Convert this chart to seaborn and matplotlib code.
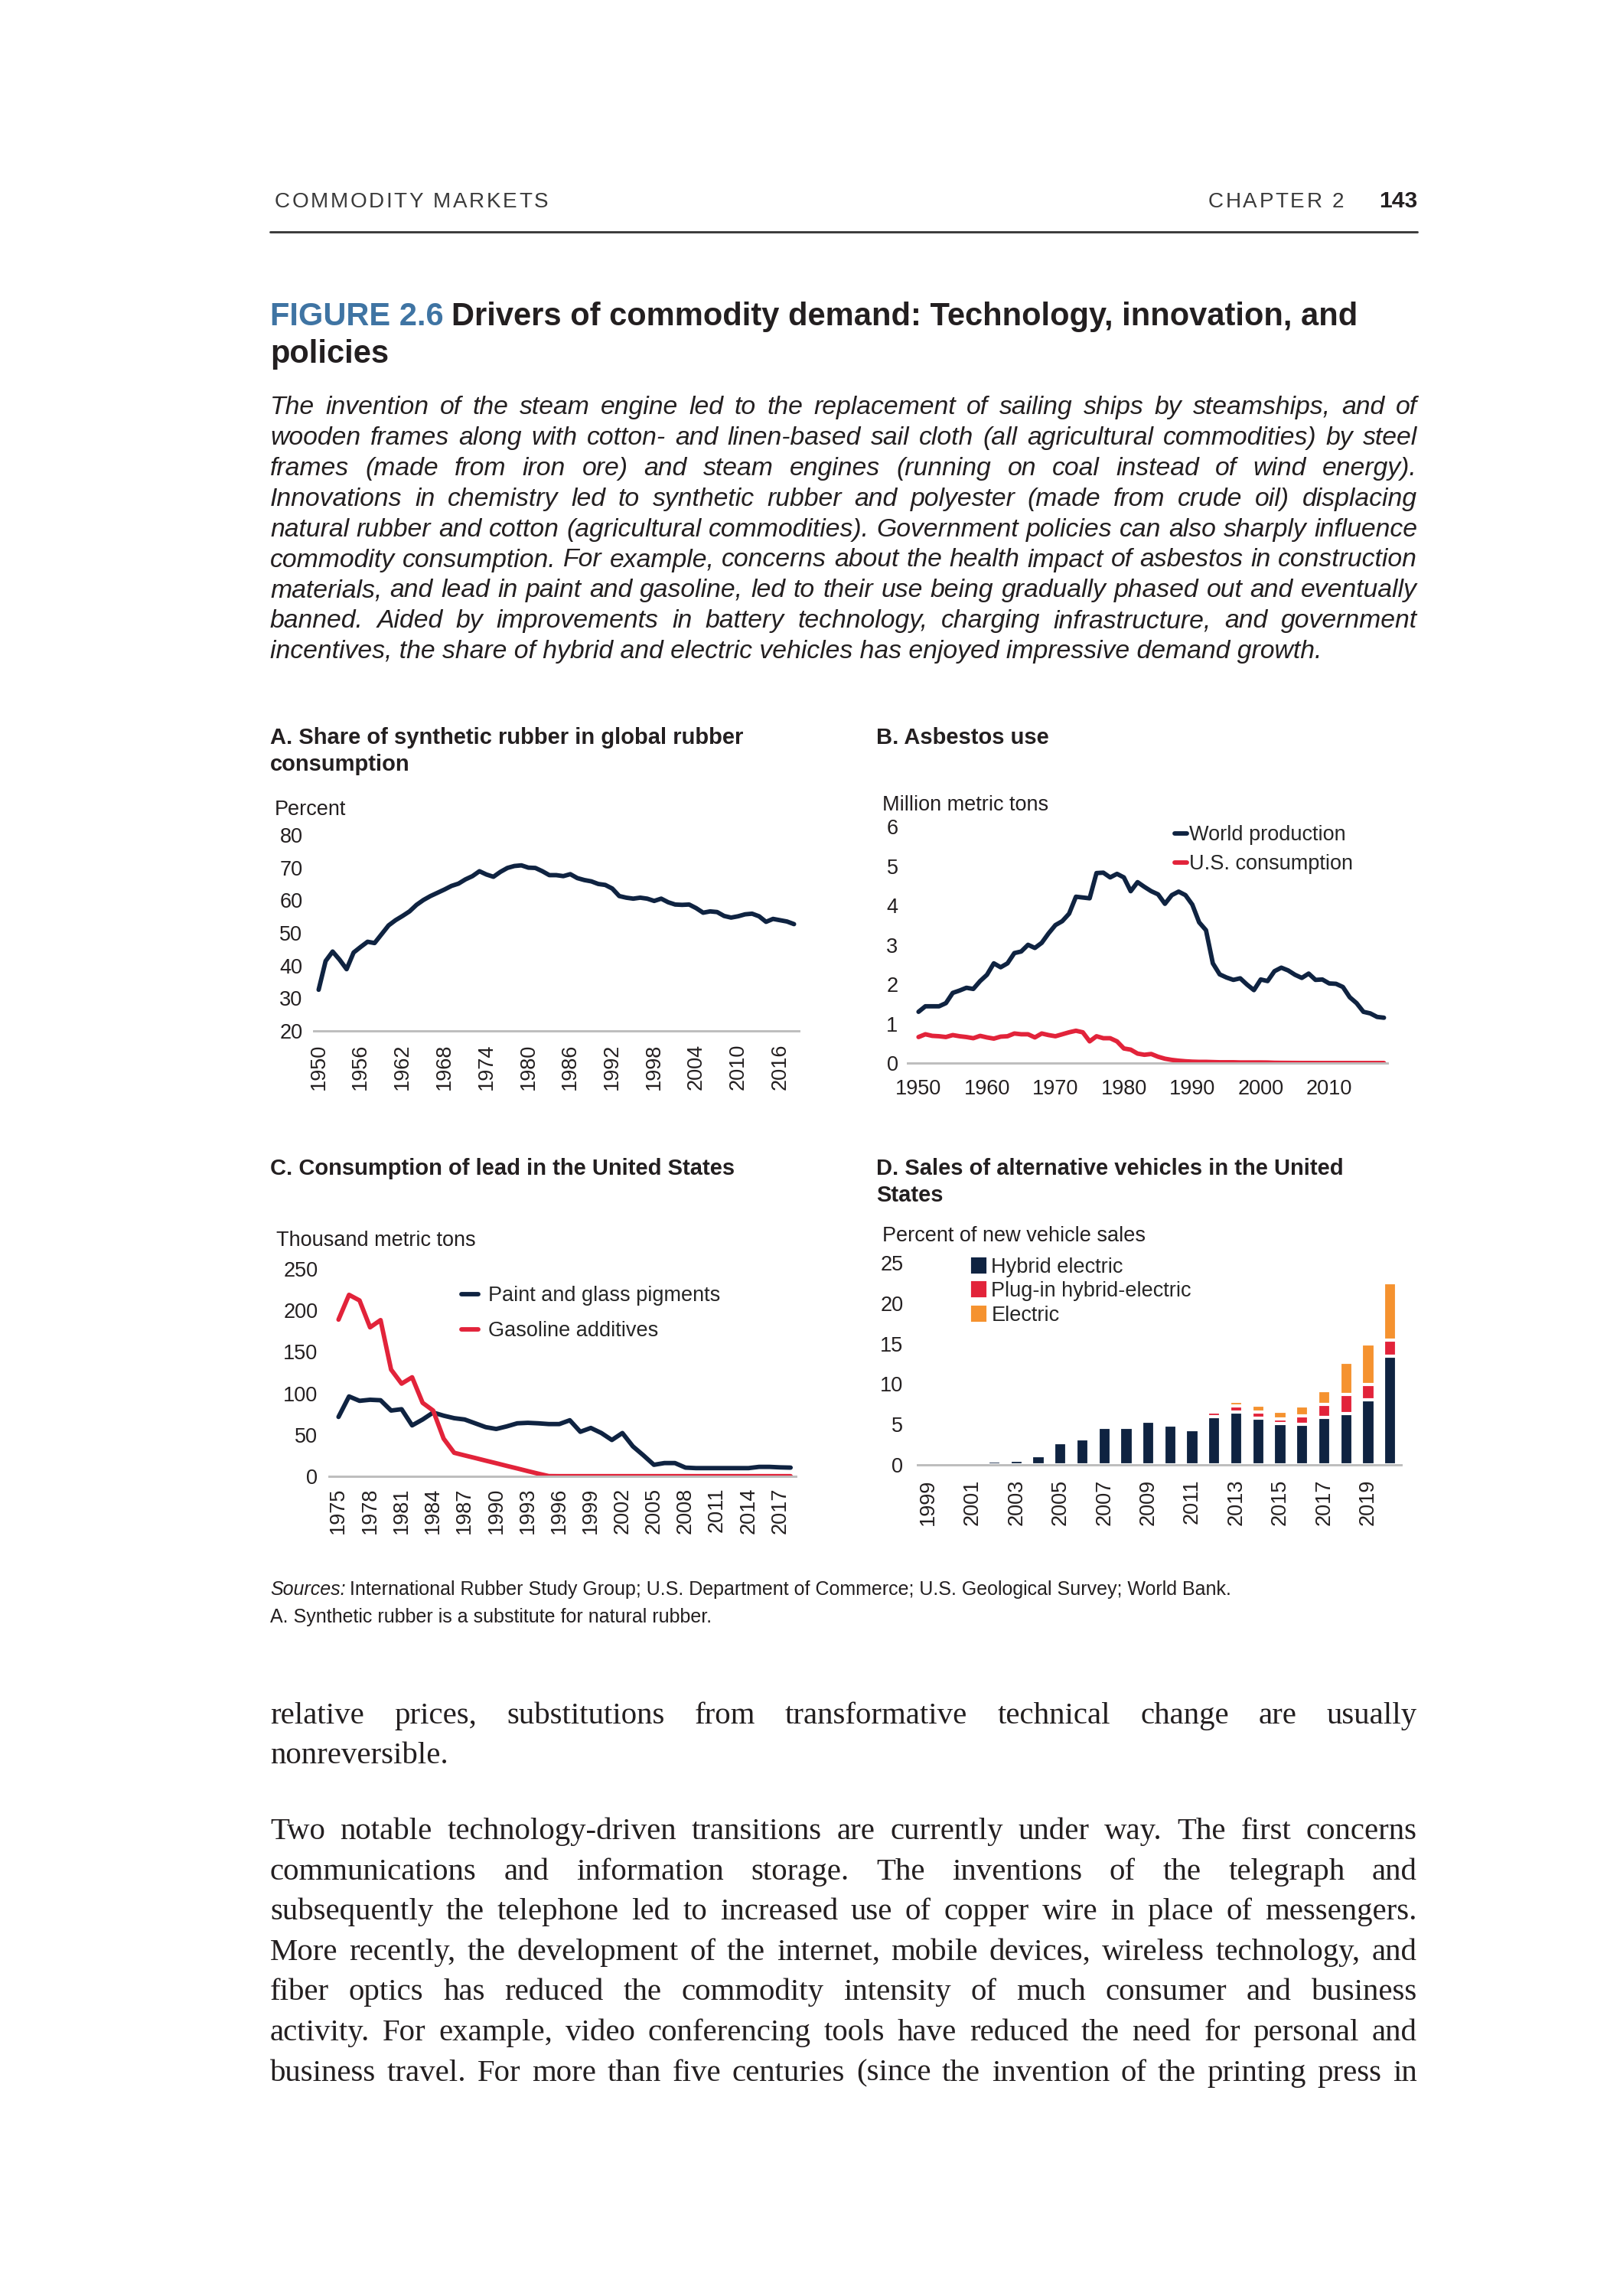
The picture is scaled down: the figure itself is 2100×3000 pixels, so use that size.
import pandas as pd
import matplotlib.pyplot as plt
import seaborn as sns
from matplotlib.patches import Patch

# ---------------- DATOS ---------------- #
# A. Participación del caucho sintético (porcentaje), 1950-2018
rubber_years = list(range(1950, 2019))
rubber_share = [32.6, 41.4, 44.3, 41.8, 38.9, 44.0, 45.7, 47.3, 46.9, 49.6,
                52.3, 53.9, 55.2, 56.6, 58.6, 60.1, 61.3, 62.3, 63.3, 64.4,
                65.1, 66.4, 67.4, 68.9, 67.9, 67.2, 68.7, 69.9, 70.5, 70.7,
                70.0, 69.9, 68.9, 67.7, 67.7, 67.4, 68.0, 66.8, 66.2, 65.8,
                65.0, 64.7, 63.6, 61.3, 60.8, 60.5, 60.8, 60.5, 59.8, 60.5,
                59.4, 58.7, 58.6, 58.7, 57.6, 56.2, 56.6, 56.4, 55.2, 54.7,
                55.1, 55.7, 55.9, 55.1, 53.4, 54.3, 53.9, 53.5, 52.7]

# B. Asbesto (millones de toneladas), 1950-2018
asb_years = list(range(1950, 2019))
asb_world = [1.30, 1.44, 1.44, 1.44, 1.52, 1.78, 1.84, 1.91, 1.88, 2.08,
             2.24, 2.53, 2.43, 2.53, 2.79, 2.83, 3.00, 2.92, 3.05, 3.29,
             3.50, 3.60, 3.79, 4.22, 4.20, 4.18, 4.82, 4.83, 4.71, 4.80,
             4.71, 4.36, 4.59, 4.47, 4.36, 4.28, 4.04, 4.26, 4.35, 4.26,
             4.02, 3.57, 3.37, 2.53, 2.25, 2.17, 2.11, 2.15, 1.99, 1.85,
             2.12, 2.08, 2.33, 2.42, 2.35, 2.24, 2.16, 2.27, 2.11, 2.12,
             2.02, 2.01, 1.93, 1.67, 1.52, 1.30, 1.26, 1.17, 1.15]
asb_us = [0.66, 0.73, 0.69, 0.68, 0.66, 0.71, 0.68, 0.66, 0.63, 0.69,
          0.65, 0.62, 0.67, 0.68, 0.75, 0.73, 0.73, 0.65, 0.75, 0.71,
          0.68, 0.73, 0.78, 0.82, 0.78, 0.55, 0.68, 0.63, 0.63, 0.55,
          0.37, 0.34, 0.24, 0.21, 0.23, 0.16, 0.11, 0.08, 0.06, 0.045,
          0.035, 0.03, 0.03, 0.025, 0.02, 0.02, 0.02, 0.015, 0.015, 0.015,
          0.015, 0.013, 0.007, 0.005, 0.004, 0.003, 0.002, 0.002, 0.0015, 0.001,
          0.001, 0.001, 0.001, 0.001, 0.0005, 0.0005, 0.0005, 0.0005, 0.0008]

# C. Consumo de plomo en EE.UU. (miles de toneladas), 1975-2018
lead_years = list(range(1975, 2019))
lead_paint = [71.6, 96.3, 91.0, 92.3, 91.7, 79.3, 80.9, 61.4, 68.5, 76.9,
              73.1, 70.1, 68.5, 63.9, 59.3, 57.1, 60.2, 63.9, 64.5, 63.9,
              63.0, 63.0, 67.6, 53.7, 58.3, 52.2, 43.8, 52.2, 36.1, 25.3,
              13.9, 16.0, 16.0, 10.5, 9.9, 9.9, 9.9, 9.9, 9.9, 9.9,
              11.4, 11.4, 10.8, 10.5]
lead_gas = [188.9, 218.8, 212.0, 179.6, 188.3, 128.7, 111.7, 119.4, 88.6, 79.3,
            45.4, 28.4, 25.2, 22.1, 18.9, 15.8, 12.6, 9.5, 6.3, 3.2,
            0.3, 0.2, 0.2, 0.2, 0.2, 0.2, 0.2, 0.2, 0.2, 0.2,
            0.2, 0.2, 0.2, 0.2, 0.2, 0.2, 0.2, 0.2, 0.2, 0.2,
            0.2, 0.2, 0.2, 0.2]

# D. Ventas de vehículos alternativos (% de ventas nuevas), 1999-2020
ev_years = list(range(1999, 2021))
ev_hybrid = [0.01, 0.1, 0.2, 0.45, 0.55, 1.1, 2.7, 3.2, 4.6, 4.6, 5.4,
             4.9, 4.4, 6.0, 6.5, 5.8, 5.1, 5.0, 5.9, 6.35, 8.05, 13.4]
ev_plugin = [0, 0, 0, 0, 0, 0, 0, 0, 0, 0, 0,
             0, 0.1, 0.55, 0.75, 0.75, 0.55, 1.1, 1.55, 2.35, 1.9, 2.0]
ev_electric = [0, 0, 0, 0, 0, 0, 0, 0, 0, 0, 0,
               0, 0.15, 0.2, 0.6, 0.85, 1.0, 1.2, 1.75, 4.0, 5.0, 7.1]

# ---------------- TEXTOS ---------------- #
intro_lines = [
    "The invention of the steam engine led to the replacement of sailing ships by steamships, and of",
    "wooden frames along with cotton- and linen-based sail cloth (all agricultural commodities) by steel",
    "frames (made from iron ore) and steam engines (running on coal instead of wind energy).",
    "Innovations in chemistry led to synthetic rubber and polyester (made from crude oil) displacing",
    "natural rubber and cotton (agricultural commodities). Government policies can also sharply influence",
    "commodity consumption. For example, concerns about the health impact of asbestos in construction",
    "materials, and lead in paint and gasoline, led to their use being gradually phased out and eventually",
    "banned. Aided by improvements in battery technology, charging infrastructure, and government",
    "incentives, the share of hybrid and electric vehicles has enjoyed impressive demand growth.",
]
body1_lines = [
    "relative prices, substitutions from transformative technical change are usually",
    "nonreversible.",
]
body2_lines = [
    "Two notable technology-driven transitions are currently under way. The first concerns",
    "communications and information storage. The inventions of the telegraph and",
    "subsequently the telephone led to increased use of copper wire in place of messengers.",
    "More recently, the development of the internet, mobile devices, wireless technology, and",
    "fiber optics has reduced the commodity intensity of much consumer and business",
    "activity. For example, video conferencing tools have reduced the need for personal and",
    "business travel. For more than five centuries (since the invention of the printing press in",
]

# ---------------- ESTILO ---------------- #
NAVY = "#0f2341"
RED = "#e2233a"
ORANGE = "#f5922f"
BLUE = "#3f74a3"
NEGRO = "#231f20"
GRIS = "#bdbdbd"
SANS = ["Liberation Sans", "DejaVu Sans"]
SERIF = ["Liberation Serif", "DejaVu Serif"]

sns.set_theme(style="white")
plt.rcParams["font.family"] = SANS

W, H = 2100, 3000
fig = plt.figure(figsize=(7, 10), dpi=300)
rend = fig.canvas.get_renderer()


def texto(x, y, s, size, color=NEGRO, weight="normal", style="normal",
          ha="left", va="baseline", family=SANS):
    return fig.text(x / W, 1 - y / H, s, fontsize=size, color=color,
                    fontweight=weight, fontstyle=style, ha=ha, va=va,
                    family=family)


def ancho(t):
    return t.get_window_extent(rend).width


def justificar(lines, x0, x1, y0, paso, size, style="normal", family=SANS,
               ultima_completa=False):
    # coloca palabra por palabra para repartir el espacio (texto justificado)
    for i, line in enumerate(lines):
        y = y0 + i * paso
        words = line.split(" ")
        ultima = (i == len(lines) - 1) and not ultima_completa
        if ultima or len(words) == 1:
            texto(x0, y, line, size, style=style, family=family)
            continue
        arts = [texto(x0, y, w, size, style=style, family=family) for w in words]
        anchos = [ancho(a) for a in arts]
        gap = (x1 - x0 - sum(anchos)) / (len(words) - 1)
        x = x0
        for a, w in zip(arts, anchos):
            a.set_x(x / W)
            x += w + gap


def espaciado(x, y, s, size, track, color):
    # texto con separación entre letras
    for ch in s:
        t = texto(x, y, ch, size, color=color)
        x += ancho(t) + track
    return x


def ejes(left, top, right, bottom):
    ax = fig.add_axes([left / W, 1 - bottom / H, (right - left) / W, (bottom - top) / H])
    ax.patch.set_alpha(0)
    return ax


def estilo(ax):
    sns.despine(ax=ax, left=True)
    ax.spines["bottom"].set_color(GRIS)
    ax.spines["bottom"].set_linewidth(0.7)
    ax.tick_params(length=0, labelsize=6.5, labelcolor=NEGRO)
    ax.set_xlabel("")
    ax.set_ylabel("")
    ax.grid(False)


LW = 1.4

# ---------------- ENCABEZADO ---------------- #
espaciado(359, 271, "COMMODITY MARKETS", 6.7, 2.6, "#3a3a3a")
espaciado(1579, 271, "CHAPTER 2", 6.7, 2.6, "#3a3a3a")
texto(1852, 271, "143", 7.2, weight="bold", ha="right")
fig.add_artist(plt.Line2D([353 / W, 1852 / W], [1 - 303 / H, 1 - 303 / H],
                          color="#3a3a3a", linewidth=0.7))

t1 = texto(353, 425, "FIGURE 2.6", 10.0, color=BLUE, weight="bold")
texto(353 + ancho(t1) + 10, 425, "Drivers of commodity demand: Technology, innovation, and",
      10.0, weight="bold")
texto(353, 474, "policies", 10.0, weight="bold")

justificar(intro_lines, 353, 1852, 541, 39.9, 8.1, style="italic")

# ---------------- PANEL A ---------------- #
texto(353, 972, "A. Share of synthetic rubber in global rubber", 7.0, weight="bold")
texto(353, 1007, "consumption", 7.0, weight="bold")
texto(359, 1065, "Percent", 6.5)

axA = ejes(410, 1091, 1044, 1347)
sns.lineplot(x=rubber_years, y=rubber_share, color=NAVY, linewidth=LW, ax=axA)
estilo(axA)
axA.set_xlim(1949.3, 2018.7)
axA.set_ylim(20, 80)
axA.set_yticks(range(20, 81, 10))
axA.set_xticks(range(1950, 2017, 6))
axA.set_xticklabels([str(y) for y in range(1950, 2017, 6)], rotation=90)
axA.tick_params(axis="y", pad=3.5)
axA.tick_params(axis="x", pad=4)

# ---------------- PANEL B ---------------- #
texto(1145, 972, "B. Asbestos use", 7.0, weight="bold")
texto(1153, 1059, "Million metric tons", 6.5)

axB = ejes(1186, 1080, 1813, 1389)
sns.lineplot(x=asb_years, y=asb_world, color=NAVY, linewidth=LW, ax=axB,
             label="World production")
sns.lineplot(x=asb_years, y=asb_us, color=RED, linewidth=LW, ax=axB,
             label="U.S. consumption")
estilo(axB)
axB.set_xlim(1948.4, 2018.5)
axB.set_ylim(0, 6)
axB.set_yticks(range(0, 7))
axB.set_xticks(range(1950, 2011, 10))
axB.tick_params(axis="y", pad=3)
axB.tick_params(axis="x", pad=5)
axB.legend(loc="upper left", bbox_to_anchor=(1535 / W, 1 - 1078 / H),
           bbox_transform=fig.transFigure, frameon=False, fontsize=6.5,
           handlelength=0.6, handletextpad=0.1, labelspacing=0.45,
           borderpad=0, borderaxespad=0)

# ---------------- PANEL C ---------------- #
texto(353, 1535, "C. Consumption of lead in the United States", 7.0, weight="bold")
texto(361, 1628, "Thousand metric tons", 6.5)

axC = ejes(430, 1658, 1040, 1929)
sns.lineplot(x=lead_years, y=lead_paint, color=NAVY, linewidth=LW, ax=axC,
             label="Paint and glass pigments")
sns.lineplot(x=lead_years, y=lead_gas, color=RED, linewidth=LW, ax=axC,
             label="Gasoline additives")
estilo(axC)
axC.set_xlim(1974.1, 2018.5)
axC.set_ylim(0, 250)
axC.set_yticks(range(0, 251, 50))
axC.set_xticks(range(1975, 2018, 3))
axC.set_xticklabels([str(y) for y in range(1975, 2018, 3)], rotation=90)
axC.tick_params(axis="y", pad=3.5)
axC.tick_params(axis="x", pad=3.5)
axC.legend(loc="upper left", bbox_to_anchor=(603 / W, 1 - 1680 / H),
           bbox_transform=fig.transFigure, frameon=False, fontsize=6.5,
           handlelength=0.8, handletextpad=0.5, labelspacing=0.75,
           borderpad=0, borderaxespad=0)

# ---------------- PANEL D ---------------- #
texto(1145, 1535, "D. Sales of alternative vehicles in the United", 7.0, weight="bold")
texto(1145, 1570, "States", 7.0, weight="bold")
texto(1153, 1622, "Percent of new vehicle sales", 6.5)

ev = pd.DataFrame({"year": [str(y) for y in ev_years],
                   "hybrid": ev_hybrid, "plugin": ev_plugin, "electric": ev_electric})
ev["hib_plug"] = ev["hybrid"] + ev["plugin"]
ev["total"] = ev["hib_plug"] + ev["electric"]

axD = ejes(1199, 1650, 1831, 1914)
sns.barplot(data=ev, x="year", y="total", color=ORANGE, width=0.6,
            saturation=1, errorbar=None, ax=axD)
sns.barplot(data=ev, x="year", y="hib_plug", color=RED, width=0.6,
            saturation=1, errorbar=None, ax=axD)
sns.barplot(data=ev, x="year", y="hybrid", color=NAVY, width=0.6,
            saturation=1, errorbar=None, ax=axD)
estilo(axD)
axD.set_xlim(-0.5, len(ev_years) - 0.5)
axD.set_ylim(0, 25)
axD.set_yticks(range(0, 26, 5))
axD.set_xticks(range(0, len(ev_years), 2))
axD.set_xticklabels([str(y) for y in ev_years[::2]], rotation=90)
axD.tick_params(axis="y", pad=4.5)
axD.tick_params(axis="x", pad=4.5)
manijas = [Patch(color=NAVY, label="Hybrid electric"),
           Patch(color=RED, label="Plug-in hybrid-electric"),
           Patch(color=ORANGE, label="Electric")]
axD.legend(handles=manijas, loc="upper left", bbox_to_anchor=(1271 / W, 1 - 1643 / H),
           bbox_transform=fig.transFigure, frameon=False, fontsize=6.5,
           handlelength=0.6, handleheight=0.6, handletextpad=0.3,
           labelspacing=0.2, borderpad=0, borderaxespad=0)

# ---------------- FUENTES Y NOTAS ---------------- #
s1 = texto(353, 2084, "Sources:", 6.0, style="italic")
texto(353 + ancho(s1) + 5, 2084,
      "International Rubber Study Group; U.S. Department of Commerce; U.S. Geological Survey; World Bank.",
      6.0)
texto(353, 2120, "A. Synthetic rubber is a substitute for natural rubber.", 6.0)

# ---------------- TEXTO DEL LIBRO ---------------- #
justificar(body1_lines, 353, 1852, 2252, 51.5, 9.8, family=SERIF)
justificar(body2_lines, 353, 1852, 2403, 52.6, 9.8, family=SERIF, ultima_completa=True)

fig.savefig("out.png", dpi=300)
